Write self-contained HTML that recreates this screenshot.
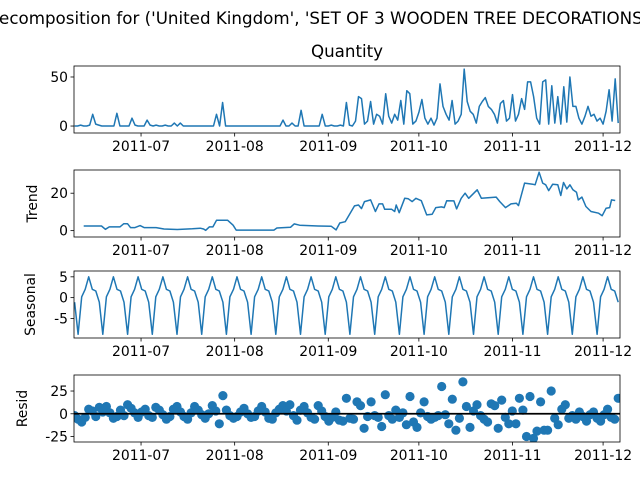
<!DOCTYPE html>
<html><head><meta charset="utf-8"><style>
body{margin:0;background:#fff;}
svg{display:block;font-family:"DejaVu Sans","Liberation Sans",sans-serif;}
</style></head><body>
<svg id="fig" width="640" height="480" xmlns="http://www.w3.org/2000/svg">
<text x="320" y="24" text-anchor="middle" font-size="16.7">Decomposition for ('United Kingdom', 'SET OF 3 WOODEN TREE DECORATIONS')</text>
<text x="347" y="57" text-anchor="middle" font-size="16.7">Quantity</text>
</svg>
<script>
// ---- data ----
const monthTickDays = [22, 53, 84, 114, 145, 175];
const monthTickLabels = ["2011-07","2011-08","2011-09","2011-10","2011-11","2011-12"];
const observedValues = [0,0,1,0,0,1,12,2,1,0,0,0,0,0,13,0,0,0,0,8,1,0,0,0,6,1,0,1,0,0,1,0,0,3,0,3,0,0,0,0,0,0,0,0,0,0,0,12,0,24,
0,0,0,0,0,0,0,0,0,0,0,0,0,0,0,0,0,0,0,6,0,0,3,0,0,16,0,0,0,0,0,0,12,0,0,1,0,0,1,0,24,1,0,5,30,28,2,5,25,2,
12,10,2,33,10,3,12,6,26,2,36,33,2,5,14,27,8,2,8,1,8,43,20,12,6,26,2,5,12,58,25,15,12,3,20,25,29,20,17,12,3,23,26,5,8,32,5,12,28,17,
45,45,30,8,2,45,47,2,41,3,30,2,40,4,50,20,20,8,2,10,20,10,12,5,8,2,15,37,5,48,3];
const trendDays = [3,8.9,10.2,11.5,15,16.3,17.5,18.5,20,21.7,23,27,29.6,34,39,41.6,42.7,43.4,44.6,45.8,47,50.7,52.5,53.5,66,67,71.5,72.7,74.5,80.6,85,86.6,87.8,89.6,92.7,94,95,96,98,99.6,100.8,102,102.7,105,106,106.5,107.5,109.3,110.5,111.8,113,114.8,116.6,118.4,119.6,121.5,122.4,123.2,125.6,126.5,128,129.3,130.5,133.3,134.7,139.6,140.8,142.7,144.5,146.3,147,149,151.7,152.5,153.8,155,156,157,158.3,160,161,161.9,163,164,165,166.2,166.8,168,169.3,171,173.5,174.7,176,177.2,177.8,179];
const trendValues = [2.5,2.5,0.7,2.0,2.0,3.7,3.7,1.6,1.6,2.7,1.6,1.6,0.9,0.6,1.0,1.3,0.9,0.2,2.0,2.0,5.5,5.5,2.9,0.3,0.3,1.4,1.8,3.6,2.9,2.5,2.3,0.4,4.1,4.8,13.2,13.7,11.8,15.5,16.4,10.2,14.3,14.3,11.4,11.4,10.2,13.7,9.6,17.3,17.0,15.5,17.3,16.0,8.4,8.8,12.3,12.7,12.3,16.0,15.9,11.6,17.3,20.0,17.3,21.8,17.3,17.9,15.5,12.3,14.3,14.6,13.4,25.4,24.8,24.5,31.2,25.4,24.5,21.4,24.8,24.5,18.8,25.7,22.3,24.5,21.8,20.5,16.4,17.9,12.9,10.2,9.3,8.0,12.0,12.3,16.4,16.1];
const seasonalPattern = [5.0, 2.0, 1.6, -1.1, -8.8, 0.2, 2.0];
const residValues = [-2,-6,-9,-4,5,3,-3,7,2,8, 1,-5,-3,4,-2,10,6,1,-4,2, 5,-2,-4,7,4,-1,-6,-3,5,8, 2,-3,-6,1,8,4,-1,-5,0,9,
3,-11,20,4,-2,-5,-3,2,6,0, -4,-3,3,8,2,-5,-6,1,5,9, 3,10,-2,-7,4,8,1,-4,-6,9, 3,-3,-8,-4,2,
-7,-8,17,-5,-6,13,9,-16,-3,13, -2,-4,-14,21,-2,-6,4,-4,1,-12, 19,-9,-15,1,13,-3,-6,-4,-2,30,
-1,-11,16,-18,-5,35,8,-15,3,10, -2,-6,-9,11,9,-16,15,-4,-11,3, -11,17,4,-25,19,-27,-19,13,-18,-18,
25,-5,-12,5,10,-5,-2,-6,2,-3, -8,-1,2,-5,-8,-1,5,-4,-6,17];

// ---- layout ----
const NS="http://www.w3.org/2000/svg";
const svg=document.getElementById('fig');
const X0=74,X1=620,D0=-0.2,D1=180.6;
const xs=d=>X0+(d-D0)/(D1-D0)*(X1-X0);
const obsStep=D1/ (residValues.length-0.5);
function mk(tag,attrs,parent){const e=document.createElementNS(NS,tag);for(const k in attrs)e.setAttribute(k,attrs[k]);(parent||svg).appendChild(e);return e;}
const panels=[
 {name:'observed',top:66,bot:133,ymin:-7.1,ymax:61.2,ticks:[0,50],label:null},
 {name:'trend',top:170,bot:237,ymin:-3.4,ymax:32.4,ticks:[0,20],label:'Trend',lx:37},
 {name:'seasonal',top:271,bot:338,ymin:-9.7,ymax:6.4,ticks:[-5,0,5],label:'Seasonal',lx:35},
 {name:'resid',top:375,bot:442,ymin:-31,ymax:42.6,ticks:[-25,0,25],label:'Resid',lx:27}
];
panels.forEach(p=>{p.ys=v=>p.bot-(v-p.ymin)/(p.ymax-p.ymin)*(p.bot-p.top);});
function axes(p){
  const g=mk('g',{});
  
  
  p.ticks.forEach(t=>{const y=p.ys(t);
    mk('line',{x1:X0-3.5,x2:X0,y1:y,y2:y,stroke:'#000','stroke-width':0.8},g);
    const tx=mk('text',{x:X0-6,y:y+5,'text-anchor':'end','font-size':'13.9'},g);tx.textContent=t;
    
    
  });
  monthTickDays.forEach((d,i)=>{const x=xs(d);
    mk('line',{x1:x,x2:x,y1:p.bot,y2:p.bot+3.5,stroke:'#000','stroke-width':0.8},g);
    const tx=mk('text',{x:x,y:p.bot+18,'text-anchor':'middle','font-size':'13.9'},g);tx.textContent=monthTickLabels[i];
    
    
  });
  if(p.label){const cy=(p.top+p.bot)/2;
    const t=mk('text',{x:p.lx,y:cy,'text-anchor':'middle','font-size':'13.9',transform:`rotate(-90 ${p.lx} ${cy})`},g);t.textContent=p.label;
    
    
  }
  return g;
}
function frame(p){const r=mk('rect',{x:X0,y:p.top,width:X1-X0,height:p.bot-p.top,fill:'none',stroke:'#000','stroke-width':0.8});
  
  }
function clip(p){const c=mk('clipPath',{id:'c-'+p.name});mk('rect',{x:X0,y:p.top,width:X1-X0,height:p.bot-p.top},c);return 'url(#c-'+p.name+')';}
const C='#1f77b4';
// observed
let p=panels[0];axes(p);
let pts=observedValues.map((v,i)=>xs(i).toFixed(1)+','+p.ys(v).toFixed(1)).join(' ');
let l=mk('polyline',{points:pts,fill:'none',stroke:C,'stroke-width':1.5,'stroke-linejoin':'round','clip-path':clip(p)});


frame(p);
// trend
p=panels[1];axes(p);
pts=trendValues.map((v,i)=>xs(trendDays[i]).toFixed(1)+','+p.ys(v).toFixed(1)).join(' ');
l=mk('polyline',{points:pts,fill:'none',stroke:C,'stroke-width':1.5,'stroke-linejoin':'round','clip-path':clip(p)});


frame(p);
// seasonal
p=panels[2];axes(p);
pts=residValues.map((_,k)=>{const v=seasonalPattern[(k+3)%7];return xs(k*obsStep).toFixed(1)+','+p.ys(v).toFixed(1);}).join(' ');
l=mk('polyline',{points:pts,fill:'none',stroke:C,'stroke-width':1.5,'stroke-linejoin':'round','clip-path':clip(p)});


frame(p);
// resid
p=panels[3];axes(p);
const cp=clip(p);
const g=mk('g',{'clip-path':cp});


residValues.forEach((v,k)=>{const c=mk('circle',{cx:xs(k*obsStep).toFixed(1),cy:p.ys(v).toFixed(1),r:4.6,fill:C},g);
  
  });
l=mk('line',{x1:X0,x2:X1,y1:p.ys(0),y2:p.ys(0),stroke:'#000','stroke-width':1.8});


frame(p);
</script>
</body></html>
